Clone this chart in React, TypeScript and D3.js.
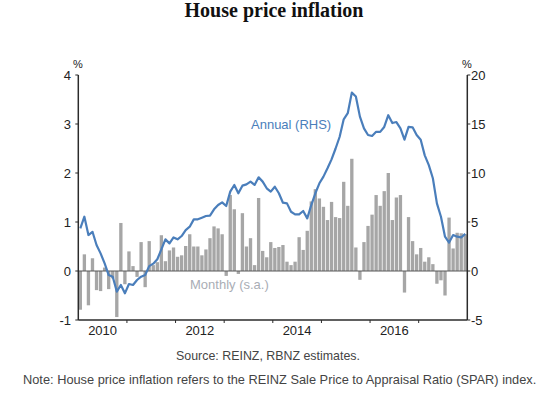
import * as d3 from 'd3';

// months run Jan 2010 .. Dec 2017
const startYear = 2010;
const endYear = 2018;

// monthly % change, seasonally adjusted (LHS)
const monthly = [
  -0.79, 0.34, -0.7, 0.26, -0.39, -0.41, 0.07, -0.37, -0.15, -0.94, 0.98, -0.27,
  0.4, 0.1, -0.12, 0.59, -0.33, 0.61, 0.12, 0.18, 0.73, 0.2, 0.42, 0.48,
  0.29, 0.32, 0.51, 0.75, 0.5, 0.5, 0.32, 0.44, 0.67, 0.91, 0.87, 0.75,
  -0.1, 1.55, 1.26, -0.06, 1.18, 0.5, 0.67, 0.12, 1.49, 0.41, 0.28, 0.59,
  0.47, 0.49, 0.53, 0.19, 0.12, 0.19, 0.69, 0.43, 0.82, 1.42, 1.67, 1.48,
  1.31, 1.04, 1.41, 1.1, 1.08, 1.82, 1.33, 2.29, 0.48, -0.18, 0.59, 0.92,
  1.15, 1.55, 1.33, 1.63, 2.0, 1.04, 1.5, 1.55, -0.44, 1.1, 0.61, 0.34,
  0.47, 0.19, 0.28, 0.14, -0.26, -0.19, -0.5, 1.09, 0.46, 0.78, 0.77, 0.75,
];

// annual % change (RHS)
const annual = [
  4.35, 5.54, 3.67, 4.0, 2.65, 1.8, 0.78, -0.41, -0.58, -2.1, -1.43, -2.28,
  -1.33, -1.43, -0.92, -0.58, -0.41, 0.5, 0.75, 1.2, 2.2, 3.23, 2.82, 3.43,
  3.23, 3.57, 4.18, 4.52, 5.27, 5.27, 5.44, 5.61, 5.65, 6.29, 6.73, 7.0,
  6.63, 8.1, 8.78, 7.93, 8.71, 8.84, 9.12, 8.78, 9.56, 9.12, 8.44, 8.1,
  8.6, 7.93, 6.97, 6.9, 6.05, 5.78, 5.78, 6.12, 5.37, 6.73, 7.93, 8.95,
  9.63, 10.48, 11.39, 12.5, 13.7, 15.48, 16.1, 18.2, 17.8, 15.75, 14.56, 13.88,
  13.78, 14.2, 14.2, 14.7, 15.9, 15.1, 15.2, 14.56, 13.4, 14.7, 14.66, 13.88,
  13.4, 11.8, 10.8, 9.46, 6.9, 5.54, 3.5, 2.9, 3.67, 3.5, 3.44, 3.78,
];

const leftTicks = [-1, 0, 1, 2, 3, 4];
const rightTicks = [-5, 0, 5, 10, 15, 20];
const yearLabels = [2010, 2012, 2014, 2016];

const W = 551;
const H = 398;
const m = { left: 78.3, right: 467.3, top: 75, bottom: 320 };
const sans = '"Liberation Sans", Arial, sans-serif';
const axisColor = '#2b2b2b';

export default function App() {
  const idx = d3.range(monthly.length);
  const x = d3.scaleBand<number>().domain(idx).range([m.left, m.right]).paddingInner(0.18).paddingOuter(0.09);
  const years = d3.scaleLinear().domain([startYear, endYear]).range([m.left, m.right]);
  const yL = d3.scaleLinear().domain([-1, 4]).range([m.bottom, m.top]);
  const yR = d3.scaleLinear().domain([-5, 20]).range([m.bottom, m.top]);
  const cx = (i: number) => (x(i) || 0) + x.bandwidth() / 2;

  const line = d3
    .line<number>()
    .x((_, i) => cx(i))
    .y((d) => yR(d));

  return (
    <svg width={W} height={H} style={{ position: 'absolute', left: 0, top: 0 }} fontFamily={sans}>
      <rect width={W} height={H} fill="#fff" />
      <text x={274} y={17} textAnchor="middle" fontFamily='"Liberation Serif", "DejaVu Serif", serif' fontWeight="bold" fontSize={20} fill="#111">
        House price inflation
      </text>

      {/* bars */}
      {monthly.map((v, i) => (
        <rect
          key={i}
          x={x(i)}
          width={x.bandwidth()}
          y={Math.min(yL(v), yL(0))}
          height={Math.abs(yL(v) - yL(0))}
          fill="#a6a6a6"
        />
      ))}

      {/* zero line */}
      <line x1={m.left} x2={m.right} y1={yL(0)} y2={yL(0)} stroke="#595959" strokeWidth={1} />

      <path d={line(annual) || ''} fill="none" stroke="#4a7ebb" strokeWidth={2.2} strokeLinejoin="round" />

      <text x={251} y={129} fontSize={13} fill="#4a7ebb">Annual (RHS)</text>
      <text x={190} y={289} fontSize={13} fill="#a9adb5">Monthly (s.a.)</text>

      {/* axes */}
      <line x1={m.left} x2={m.left} y1={m.top} y2={m.bottom} stroke={axisColor} strokeWidth={1.5} />
      <line x1={m.right} x2={m.right} y1={m.top} y2={m.bottom} stroke={axisColor} strokeWidth={1.5} />
      <line x1={m.left} x2={m.right} y1={m.bottom} y2={m.bottom} stroke={axisColor} strokeWidth={1.5} />

      {leftTicks.map((t) => (
        <g key={'l' + t}>
          <line x1={m.left - 3} x2={m.left} y1={yL(t)} y2={yL(t)} stroke={axisColor} strokeWidth={1} />
          <text x={71} y={yL(t) + 4.5} textAnchor="end" fontSize={13} fill="#222">{t}</text>
        </g>
      ))}
      {rightTicks.map((t) => (
        <g key={'r' + t}>
          <line x1={m.right} x2={m.right + 3} y1={yR(t)} y2={yR(t)} stroke={axisColor} strokeWidth={1} />
          <text x={471} y={yR(t) + 4.5} fontSize={13} fill="#222">{t}</text>
        </g>
      ))}
      <text x={78} y={68} textAnchor="middle" fontSize={11} fill="#222">%</text>
      <text x={467} y={68} textAnchor="middle" fontSize={11} fill="#222">%</text>

      {d3.range(startYear + 1, endYear).map((yr) => (
        <line key={yr} x1={years(yr)} x2={years(yr)} y1={m.bottom} y2={m.bottom + 3} stroke={axisColor} strokeWidth={1} />
      ))}
      {yearLabels.map((yr) => (
        <text key={yr} x={years(yr + 0.5)} y={335} textAnchor="middle" fontSize={13} fill="#222">{yr}</text>
      ))}

      <text x={268} y={360} textAnchor="middle" fontSize={12.4} fill="#444">Source: REINZ, RBNZ estimates.</text>
      <text x={23} y={384} fontSize={12.8} fill="#444">Note: House price inflation refers to the REINZ Sale Price to Appraisal Ratio (SPAR) index.</text>
    </svg>
  );
}
